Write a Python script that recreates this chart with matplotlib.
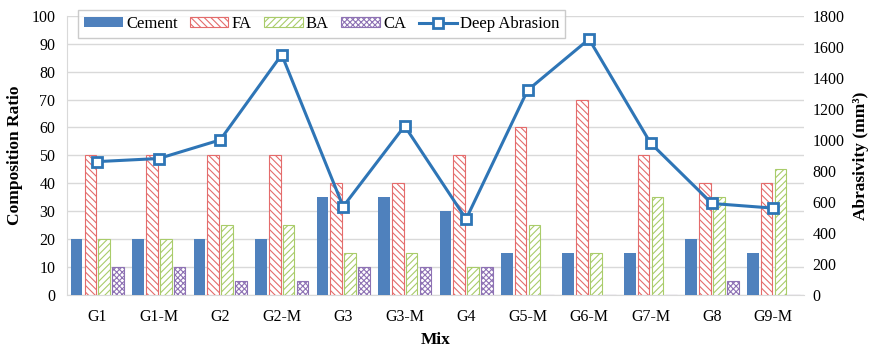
import matplotlib.pyplot as plt
from matplotlib.lines import Line2D
import numpy as np

plt.rcParams['font.family'] = ['Liberation Serif', 'DejaVu Serif']
plt.rcParams['hatch.linewidth'] = 0.8

mixes = ['G1', 'G1-M', 'G2', 'G2-M', 'G3', 'G3-M', 'G4', 'G5-M', 'G6-M', 'G7-M', 'G8', 'G9-M']
cement = [20, 20, 20, 20, 35, 35, 30, 15, 15, 15, 20, 15]
fa = [50, 50, 50, 50, 40, 40, 50, 60, 70, 50, 40, 40]
ba = [20, 20, 25, 25, 15, 15, 10, 25, 15, 35, 35, 45]
ca = [10, 10, 5, 5, 10, 10, 10, 0, 0, 0, 5, 0]
deep_abrasion = [860, 880, 1000, 1550, 570, 1090, 490, 1320, 1650, 980, 590, 560]

fig, ax = plt.subplots(figsize=(8.76, 3.52), dpi=100)
fig.subplots_adjust(left=0.076, right=0.918, top=0.955, bottom=0.162)

x = np.arange(len(mixes))
w = 0.19
step = 0.225

ax.bar(x - 1.5 * step, cement, w, color='#4F81BD', label='Cement', zorder=3)
ax.bar(x - 0.5 * step, fa, w, color='white', edgecolor='#E46C6C', hatch='\\\\\\\\\\',
       linewidth=0.8, label='FA', zorder=3)
ax.bar(x + 0.5 * step, ba, w, color='white', edgecolor='#A9CC6A', hatch='/////',
       linewidth=0.8, label='BA', zorder=3)
ax.bar(x + 1.5 * step, ca, w, color='white', edgecolor='#8E72B4', hatch='xxxxxx',
       linewidth=0.8, label='CA', zorder=3)

ax.set_ylim(0, 100)
ax.set_yticks(range(0, 101, 10))
ax.set_xlim(-0.5, len(mixes) - 0.5)
ax.set_xticks(x)
ax.set_xticklabels(mixes)
ax.yaxis.grid(True, color='#D9D9D9', linewidth=1.0, zorder=0)
ax.set_axisbelow(True)
for s in ['top', 'right']:
    ax.spines[s].set_visible(False)
for s in ['left', 'bottom']:
    ax.spines[s].set_color('#D9D9D9')
ax.tick_params(axis='y', length=0, labelsize=11.5, pad=8)
ax.tick_params(axis='x', length=0, labelsize=11.5, pad=10)
ax.set_ylabel('Composition Ratio', fontsize=12.5, fontweight='bold', labelpad=6)
ax.set_xlabel('Mix', fontsize=12.5, fontweight='bold', labelpad=5)

ax2 = ax.twinx()
ax2.plot(x, deep_abrasion, color='#2E75B6', linewidth=2.2, marker='s', markersize=7,
         markerfacecolor='white', markeredgecolor='#2E75B6', markeredgewidth=2, zorder=5)
ax2.set_ylim(0, 1800)
ax2.set_yticks(range(0, 1801, 200))
for s in ['top', 'right', 'left', 'bottom']:
    ax2.spines[s].set_visible(False)
ax2.tick_params(length=0, labelsize=11.5, pad=6)
ax2.set_ylabel('Abrasivity (mm³)', fontsize=12.5, fontweight='bold', labelpad=6)

handles, labels = ax.get_legend_handles_labels()
handles.append(Line2D([], [], color='#2E75B6', linewidth=2.2, marker='s', markersize=7,
                      markerfacecolor='white', markeredgecolor='#2E75B6', markeredgewidth=2))
labels.append('Deep Abrasion')
leg = fig.legend(handles, labels, loc='upper left', bbox_to_anchor=(0.080, 0.995), ncol=5,
                 fontsize=12, frameon=True, fancybox=False, edgecolor='#BFBFBF',
                 handlelength=2.3, handleheight=0.5, handletextpad=0.2, columnspacing=0.75,
                 borderpad=0.35)
leg.get_frame().set_linewidth(1.0)

fig.savefig('out.png', dpi=100)
